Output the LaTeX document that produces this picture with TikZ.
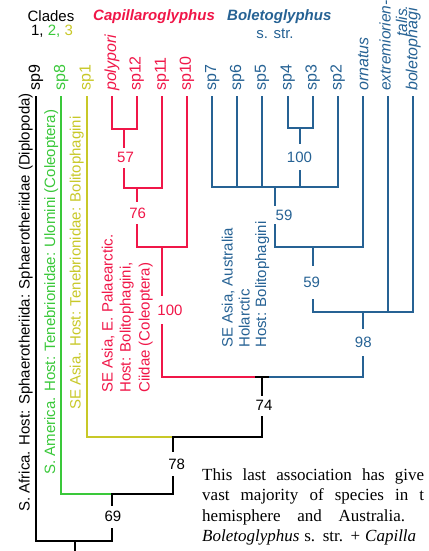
\documentclass[tikz,border=0pt]{standalone}
\usepackage{fontspec}
\setmainfont{Liberation Sans}
\newfontfamily\bodyserif{Liberation Serif}
\definecolor{cred}{RGB}{240,22,72}
\definecolor{cblue}{RGB}{38,98,148}
\definecolor{cgreen}{RGB}{58,200,58}
\definecolor{cyel}{RGB}{200,200,40}
\begin{document}
\begin{tikzpicture}[x=1pt,y=-1pt,
  br/.style={line width=2pt,line cap=rect,line join=miter},
  sp/.style={rotate=90,anchor=west,inner sep=0pt,font=\fontsize{16}{19}\selectfont},
  lab/.style={rotate=90,anchor=base west,inner sep=0pt,font=\fontsize{15}{18}\selectfont},
  bs/.style={inner xsep=1pt,inner ysep=0pt,font=\fontsize{15}{18}\selectfont},
  head/.style={inner sep=0pt,font=\fontsize{15}{18}\selectfont},
  body/.style={inner sep=0pt,anchor=base west,font=\bodyserif\fontsize{17}{20}\selectfont}]
\useasboundingbox (0,0) rectangle (428,551);

% headings
\node[head,anchor=base] (hcl) at (51,21.7) {Clades};
\node[head,anchor=base] (hnum) at (52,36) {1, \textcolor{cgreen}{2,} \textcolor{cyel}{3}};
\node[head,anchor=base west,text=cred] (hcap) at (93,21) {\bfseries\itshape Capillaroglyphus};
\node[head,anchor=base west,text=cblue] (hbol) at (227,21) {\bfseries\itshape Boletoglyphus};
\node[head,anchor=base,text=cblue] (hstr) at (275,38) {s. str.};

% tips
\foreach \i/\x in {0/36,1/61.2,2/86.7,3/112,4/136.7,5/162,6/187,7/212.3,8/237.3,9/262,10/287.7,11/312.7,12/337.7,13/363.3,14/388.3,15/413.3}
  \coordinate (t\i) at (\x,97);

% species labels
\node[sp] (l0) at (36,91) {sp9};
\node[sp,text=cgreen] (l1) at (61.2,91) {sp8};
\node[sp,text=cyel] (l2) at (86.7,91) {sp1};
\node[sp,text=cred] (l3) at (112,91) {\itshape polypori};
\node[sp,text=cred] (l4) at (136.7,91) {sp12};
\node[sp,text=cred] (l5) at (162,91) {sp11};
\node[sp,text=cred] (l6) at (187,91) {sp10};
\node[sp,text=cblue] (l7) at (212.3,91) {sp7};
\node[sp,text=cblue] (l8) at (237.3,91) {sp6};
\node[sp,text=cblue] (l9) at (262,91) {sp5};
\node[sp,text=cblue] (l10) at (287.7,91) {sp4};
\node[sp,text=cblue] (l11) at (312.7,91) {sp3};
\node[sp,text=cblue] (l12) at (337.7,91) {sp2};
\node[sp,text=cblue] (l13) at (363.3,91) {\itshape ornatus};
\node[sp,text=cblue,font=\fontsize{15.5}{18}\selectfont] (l14) at (385,91) {\itshape extremiorien-};
\node[sp,text=cblue,font=\fontsize{15.5}{18}\selectfont] (l14b) at (401.5,37) {\itshape talis};
\node[sp,text=cblue] (l15) at (413.3,91) {\itshape boletophagi};

% long labels
\node[lab] (lk) at (29.5,512) {S. Africa. Host: Sphaerotheriida: Sphaerotheriidae (Diplopoda)};
\node[lab,text=cgreen] (lg) at (55,475) {S. America. Host: Tenebrionidae: Ulomini (Coleoptera)};
\node[lab,text=cyel] (ly) at (80.5,410) {SE Asia. Host: Tenebrionidae: Bolitophagini};
\node[lab,text=cred] (lr1) at (112.5,393) {SE Asia, E. Palaearctic.};
\node[lab,text=cred] (lr2) at (130.5,393) {Host: Bolitophagini,};
\node[lab,text=cred] (lr3) at (149.5,393) {Ciidae (Coleoptera)};
\node[lab,text=cblue] (lb1) at (232.5,348) {SE Asia, Australia};
\node[lab,text=cblue] (lb2) at (249.5,348) {Holarctic};
\node[lab,text=cblue] (lb3) at (266,348) {Host: Bolitophagini};

% support labels
\node[bs,text=cred,minimum height=21.6pt] (n57) at (125.5,157.5) {57};
\node[bs,text=cred,minimum height=23.3pt] (n76) at (137.6,213.3) {76};
\node[bs,text=cred,minimum height=30pt] (nr100) at (170,310) {100};
\node[bs,text=cblue,minimum height=28pt] (nb100) at (299.5,157) {100};
\node[bs,text=cblue,minimum height=20pt] (nb59a) at (284,215) {59};
\node[bs,text=cblue,minimum height=35pt] (nb59b) at (311.7,282.5) {59};
\node[bs,text=cblue,minimum height=28pt] (n98) at (363.3,342.3) {98};
\node[bs,minimum height=21.7pt] (n74) at (264,405.8) {74};
\node[bs,minimum height=25pt] (n78) at (176.7,464) {78};
\node[bs,minimum height=23.3pt] (n69) at (113,516.7) {69};

% red clade
\coordinate (r1a) at (112,129);
\coordinate (r1b) at (136.7,129);
\coordinate (r1m) at (124,129);
\coordinate (r2m) at (124,188);
\coordinate (r2b) at (162,188);
\coordinate (r2c) at (137,188);
\coordinate (r3a) at (137,246.7);
\coordinate (r3b) at (187,246.7);
\coordinate (r3c) at (162,246.7);
\coordinate (r4) at (162,377);
\coordinate (k74a) at (256,377);
\coordinate (k74) at (262,377);
\coordinate (k74b) at (268,377);
\draw[br,cred] (t3) -- (r1a) -- (r1b) -- (t4);
\draw[br,cred] (r1m) -- (r1m |- n57.north);
\draw[br,cred] (r1m |- n57.south) -- (r2m) -- (r2b) -- (t5);
\draw[br,cred] (r2c) -- (r2c |- n76.north);
\draw[br,cred] (r2c |- n76.south) -- (r3a) -- (r3b) -- (t6);
\draw[br,cred] (r3c) -- (r3c |- nr100.north);
\draw[br,cred] (r3c |- nr100.south) -- (r4) -- (k74a);

% blue clade
\coordinate (b1a) at (287.7,128.3);
\coordinate (b1b) at (312.7,128.3);
\coordinate (b1m) at (300,128.3);
\coordinate (b2a) at (212.3,187.3);
\coordinate (b2b) at (337.7,187.3);
\coordinate (b2m) at (300,187.3);
\coordinate (b2c) at (275,187.3);
\coordinate (b3a) at (275,246.7);
\coordinate (b3b) at (363.3,246.7);
\coordinate (b3m) at (312.7,246.7);
\coordinate (b4a) at (312.7,311.7);
\coordinate (b4b) at (413.3,311.7);
\coordinate (b4m) at (363.3,311.7);
\coordinate (b5) at (363.3,377);
\draw[br,cblue] (t10) -- (b1a) -- (b1b) -- (t11);
\draw[br,cblue] (b1m) -- (b1m |- nb100.north);
\draw[br,cblue] (b1m |- nb100.south) -- (b2m);
\draw[br,cblue] (t7) -- (b2a) -- (b2b) -- (t12);
\draw[br,cblue] (t8) -- (t8 |- b2a);
\draw[br,cblue] (t9) -- (t9 |- b2a);
\draw[br,cblue] (b2c) -- (b2c |- nb59a.north);
\draw[br,cblue] (b2c |- nb59a.south) -- (b3a) -- (b3b) -- (t13);
\draw[br,cblue] (b3m) -- (b3m |- nb59b.north);
\draw[br,cblue] (b3m |- nb59b.south) -- (b4a) -- (b4b) -- (t15);
\draw[br,cblue] (t14) -- (t14 |- b4a);
\draw[br,cblue] (b4m) -- (b4m |- n98.north);
\draw[br,cblue] (b4m |- n98.south) -- (b5) -- (k74b);

% backbone
\coordinate (k78j) at (262,436.7);
\coordinate (k78m) at (173.3,436.7);
\coordinate (y1) at (86.7,436.7);
\coordinate (k69r) at (173.3,494);
\coordinate (k69m) at (111.7,494);
\coordinate (g1) at (61.2,494);
\coordinate (kr) at (111.7,540.7);
\coordinate (k0) at (36,540.7);
\coordinate (root) at (75,540.7);
\coordinate (rootb) at (75,553);
\draw[br] (k74a) -- (k74b);
\draw[br] (k74) -- (k74 |- n74.north);
\draw[br] (k74 |- n74.south) -- (k78j) -- (k78m);
\draw[br,cyel] (k78m) -- (y1) -- (t2);
\draw[br] (k78m) -- (k78m |- n78.north);
\draw[br] (k78m |- n78.south) -- (k69r) -- (k69m);
\draw[br,cgreen] (k69m) -- (g1) -- (t1);
\draw[br] (k69m) -- (k69m |- n69.north);
\draw[br] (k69m |- n69.south) -- (kr) -- (k0) -- (t0);
\draw[br] (root) -- (rootb);

% body text
\node[body] (p1) at (202,480.5) {\makebox[222pt][s]{This last association has give}};
\node[body] (p2) at (202,500.5) {\makebox[222pt][s]{vast majority of species in t}};
\node[body] (p3) at (202,521) {\makebox[203pt][s]{hemisphere and Australia.}};
\node[body] (p4) at (202,541) {\makebox[214pt][s]{\itshape Boletoglyphus\upshape{} s. str. + \itshape Capilla}};
\end{tikzpicture}
\end{document}
